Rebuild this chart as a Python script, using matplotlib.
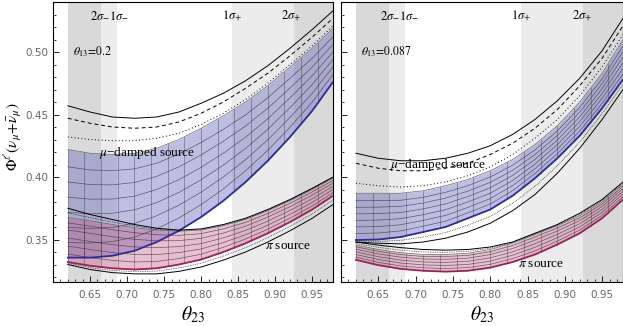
import numpy as np
import matplotlib.pyplot as plt

plt.rcParams['mathtext.fontset'] = 'stix'
plt.rcParams['font.family'] = ['Liberation Serif', 'DejaVu Serif']

theta23 = [0.62, 0.65, 0.68, 0.71, 0.74, 0.77, 0.80, 0.83, 0.86, 0.89, 0.92, 0.95, 0.978]

# left panel, theta13 = 0.2
mu_solid_L = [0.457, 0.452, 0.448, 0.447, 0.448, 0.452, 0.459, 0.467, 0.477, 0.489, 0.503, 0.518, 0.533]
mu_dash_L = [0.447, 0.443, 0.440, 0.439, 0.440, 0.444, 0.451, 0.460, 0.471, 0.483, 0.497, 0.512, 0.527]
mu_dot_L = [0.432, 0.430, 0.429, 0.429, 0.431, 0.435, 0.442, 0.451, 0.462, 0.475, 0.490, 0.505, 0.521]
mu_top_L = [0.422, 0.419, 0.418, 0.419, 0.423, 0.430, 0.439, 0.449, 0.460, 0.473, 0.488, 0.503, 0.519]
mu_bot_L = [0.3355, 0.3355, 0.337, 0.341, 0.348, 0.357, 0.368, 0.381, 0.396, 0.413, 0.432, 0.453, 0.476]
pi_solid_L = [0.375, 0.370, 0.366, 0.362, 0.359, 0.3575, 0.3585, 0.362, 0.367, 0.374, 0.382, 0.391, 0.400]
pi_top_L = [0.3676, 0.365, 0.362, 0.3595, 0.3575, 0.3565, 0.3575, 0.361, 0.366, 0.373, 0.381, 0.390, 0.399]
pi_bot_L = [0.332, 0.329, 0.327, 0.326, 0.327, 0.330, 0.334, 0.340, 0.347, 0.355, 0.364, 0.374, 0.385]
pi_low_L = [0.330, 0.326, 0.3235, 0.3225, 0.3225, 0.3245, 0.328, 0.3335, 0.340, 0.348, 0.357, 0.367, 0.378]

# right panel, theta13 = 0.087
mu_solid_R = [0.419, 0.415, 0.413, 0.413, 0.415, 0.419, 0.425, 0.434, 0.446, 0.461, 0.479, 0.501, 0.527]
mu_dash_R = [0.411, 0.407, 0.405, 0.405, 0.407, 0.411, 0.418, 0.427, 0.439, 0.454, 0.473, 0.495, 0.521]
mu_dot_R = [0.395, 0.393, 0.392, 0.393, 0.396, 0.401, 0.408, 0.418, 0.431, 0.446, 0.465, 0.488, 0.514]
mu_top_R = [0.387, 0.387, 0.387, 0.389, 0.393, 0.398, 0.405, 0.414, 0.426, 0.441, 0.460, 0.483, 0.510]
mu_bot_R = [0.3496, 0.350, 0.352, 0.356, 0.360, 0.367, 0.374, 0.385, 0.399, 0.415, 0.433, 0.455, 0.478]
mu_low_R = [0.348, 0.347, 0.3465, 0.348, 0.351, 0.356, 0.363, 0.373, 0.386, 0.403, 0.423, 0.446, 0.470]
pi_solid_R = [0.348, 0.3455, 0.3435, 0.342, 0.3415, 0.342, 0.344, 0.348, 0.355, 0.362, 0.371, 0.382, 0.396]
pi_top_R = [0.3456, 0.342, 0.3395, 0.338, 0.338, 0.339, 0.342, 0.347, 0.354, 0.361, 0.369, 0.380, 0.394]
pi_bot_R = [0.3337, 0.3295, 0.3265, 0.325, 0.3243, 0.325, 0.3275, 0.332, 0.338, 0.346, 0.355, 0.367, 0.382]

# sigma ranges of theta23 (shaded)
sig2_lo, sig1_lo, sig1_hi, sig2_hi = 0.665, 0.686, 0.841, 0.925
x_start = 0.62

x = np.array(theta23)


def band(ax, top, bot, color, alpha, edge, fracs):
    top = np.array(top); bot = np.array(bot)
    ax.fill_between(x, bot, top, color=color, alpha=alpha, lw=0, zorder=2)
    # surface mesh
    for f in fracs:
        ax.plot(x, bot + f * (top - bot), color='#333333', lw=0.5, alpha=0.7, zorder=3)
    for xm in np.arange(0.62, 0.98, 0.0225):
        ax.plot([xm, xm], [np.interp(xm, x, bot), np.interp(xm, x, top)],
                color='#333333', lw=0.5, alpha=0.55, zorder=3)
    ax.plot(x, top, color='#666666', lw=0.5, zorder=4)
    ax.plot(x, bot, color=edge, lw=1.3, zorder=5)


def panel(ax, d, label, pos):
    ax.axvspan(x_start, sig2_lo, color='#d9d9d9', lw=0, zorder=0)
    ax.axvspan(sig2_lo, sig1_lo, color='#ececec', lw=0, zorder=0)
    ax.axvspan(sig1_hi, sig2_hi, color='#ececec', lw=0, zorder=0)
    ax.axvspan(sig2_hi, 1.0, color='#d9d9d9', lw=0, zorder=0)

    band(ax, d['mu_top'], d['mu_bot'], '#7070c0', 0.45, '#2c2ca0', [0.14, 0.28, 0.42, 0.56, 0.7, 0.84])
    band(ax, d['pi_top'], d['pi_bot'], '#c0507f', 0.36, '#a0205a', [0.18, 0.36, 0.54, 0.72, 0.88])

    ax.plot(x, d['mu_solid'], color='k', lw=0.7, zorder=6)
    ax.plot(x, d['mu_dash'], color='k', lw=0.7, ls=(0, (4, 3)), zorder=6)
    ax.plot(x, d['mu_dot'], color='k', lw=0.7, ls=(0, (1, 2.5)), zorder=6)
    ax.plot(x, d['pi_solid'], color='k', lw=0.7, zorder=6)
    ax.plot(x, (np.array(d['pi_solid']) + np.array(d['pi_top'])) / 2, color='k', lw=0.5, ls=(0, (1, 1.5)), zorder=6)
    if 'mu_low' in d:
        ax.plot(x, d['mu_low'], color='k', lw=0.7, zorder=6)
        ax.plot(x, (np.array(d['mu_low']) + np.array(d['mu_bot'])) / 2, color='k', lw=0.5, ls=(0, (1, 1.5)), zorder=6)
    if 'pi_low' in d:
        ax.plot(x, d['pi_low'], color='k', lw=0.7, zorder=6)
        ax.plot(x, (np.array(d['pi_low']) + np.array(d['pi_bot'])) / 2, color='k', lw=0.5, ls=(0, (1, 1.5)), zorder=6)

    ax.set_xlim(0.600, 0.978)
    ax.set_ylim(0.316, 0.539)
    ax.set_xticks([0.65, 0.70, 0.75, 0.80, 0.85, 0.90, 0.95])
    ax.set_xticks(np.arange(0.61, 0.98, 0.01), minor=True)
    ax.set_yticks([0.35, 0.40, 0.45, 0.50])
    ax.set_yticks(np.arange(0.32, 0.54, 0.01), minor=True)
    ax.tick_params(direction='in', length=4, width=0.6, labelsize=7.5, labelcolor='#666666',
                   top=False, right=False)
    ax.tick_params(axis='x', pad=6)
    ax.tick_params(which='minor', direction='in', length=2, width=0.5, top=False, right=False)
    for lab in ax.get_xticklabels() + ax.get_yticklabels():
        lab.set_fontfamily('DejaVu Sans')
    for s in ax.spines.values():
        s.set_linewidth(0.8)
    ax.set_xlabel(r'$\theta_{23}$', fontsize=14, labelpad=3)

    tkw = dict(fontsize=9, ha='center', va='center', zorder=8)
    ax.text(pos['sig_lo'], 0.529, r'$2\sigma_{-}1\sigma_{-}$', **tkw)
    ax.text(pos['s1'], 0.529, r'$1\sigma_{+}$', **tkw)
    ax.text(pos['s2'], 0.529, r'$2\sigma_{+}$', **tkw)
    ax.text(0.627, 0.500, label, fontsize=8.5, ha='left', va='center', zorder=8)
    ax.text(pos['mu'][0], pos['mu'][1], r'$\mu$' + '\u2212damped source', fontsize=9.5,
            ha='center', va='center', zorder=8)
    ax.text(pos['pi'][0], pos['pi'][1], r'$\pi$' + ' source', fontsize=9.5,
            ha='center', va='center', zorder=8)


fig = plt.figure(figsize=(6.23, 3.26), dpi=100)
axL = fig.add_axes([53 / 623, 44 / 326, 280 / 623, 280 / 326])
axR = fig.add_axes([341 / 623, 44 / 326, 282 / 623, 280 / 326])

dL = dict(mu_solid=mu_solid_L, mu_dash=mu_dash_L, mu_dot=mu_dot_L, mu_top=mu_top_L, mu_bot=mu_bot_L,
          pi_solid=pi_solid_L, pi_top=pi_top_L, pi_bot=pi_bot_L, pi_low=pi_low_L)
dR = dict(mu_solid=mu_solid_R, mu_dash=mu_dash_R, mu_dot=mu_dot_R, mu_top=mu_top_R, mu_bot=mu_bot_R,
          mu_low=mu_low_R, pi_solid=pi_solid_R, pi_top=pi_top_R, pi_bot=pi_bot_R)

panel(axL, dL, r'$\theta_{13}\!=\!0.2$',
      dict(sig_lo=0.676, s1=0.842, s2=0.922, mu=(0.727, 0.419), pi=(0.917, 0.345)))
panel(axR, dR, r'$\theta_{13}\!=\!0.087$',
      dict(sig_lo=0.678, s1=0.841, s2=0.923, mu=(0.73, 0.41), pi=(0.868, 0.3305)))

axL.set_ylabel(r'$\Phi^{\ell}(\nu_\mu\!+\!\bar{\nu}_\mu)$', fontsize=11)
axL.yaxis.set_label_coords(-0.105, 0.52)
axR.set_yticklabels([])

fig.savefig('out.png', dpi=100)
